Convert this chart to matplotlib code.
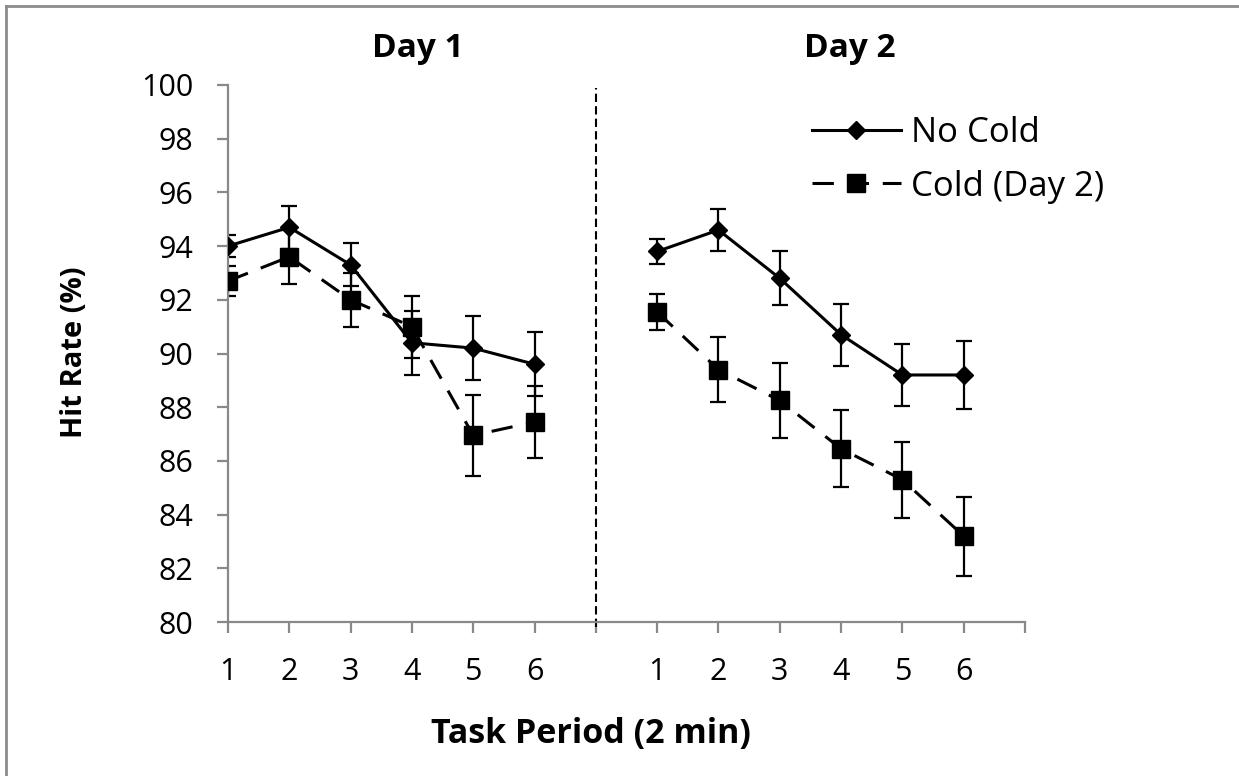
import numpy as np
import matplotlib.pyplot as plt
from matplotlib.lines import Line2D

plt.rcParams['font.family'] = ['Open Sans', 'DejaVu Sans']

# task periods per day
periods = [1, 2, 3, 4, 5, 6]

# hit rate (%) and error bars
day1_no_cold = [94.0, 94.7, 93.3, 90.4, 90.2, 89.6]
day1_no_cold_err = [0.4, 0.8, 0.8, 1.2, 1.2, 1.2]
day1_cold = [92.7, 93.6, 92.0, 91.0, 86.95, 87.45]
day1_cold_err = [0.55, 1.0, 1.0, 1.15, 1.5, 1.35]

day2_no_cold = [93.8, 94.6, 92.8, 90.7, 89.2, 89.2]
day2_no_cold_err = [0.45, 0.8, 1.0, 1.15, 1.15, 1.25]
day2_cold = [91.55, 89.4, 88.25, 86.45, 85.3, 83.2]
day2_cold_err = [0.68, 1.2, 1.4, 1.43, 1.42, 1.47]

W, H = 1239, 776
fig = plt.figure(figsize=(W / 100, H / 100), dpi=100)
ax = fig.add_axes([228 / W, 1 - 622 / H, (1025 - 228) / W, (622 - 85) / H])

x1 = np.arange(1, 7)
x2 = np.arange(8, 14)
dash = (0, (7, 4.5))

kw_err = dict(ecolor='black', elinewidth=1.6, capsize=5.5, capthick=1.6, zorder=2)
for xs, nc, nce, c, ce in [(x1, day1_no_cold, day1_no_cold_err, day1_cold, day1_cold_err),
                           (x2, day2_no_cold, day2_no_cold_err, day2_cold, day2_cold_err)]:
    ax.errorbar(xs, nc, yerr=nce, fmt='none', **kw_err)
    ax.errorbar(xs, c, yerr=ce, fmt='none', **kw_err)
    ax.plot(xs, nc, color='black', lw=2.2, marker='D', ms=9.5, zorder=3)
    ax.plot(xs, c, color='black', lw=2.2, ls=dash, marker='s', ms=13, zorder=3)

# divider between the days
ax.plot([7, 7], [79.8, 99.9], color='black', lw=1.5, ls=(0, (4, 2)), clip_on=False)

ax.set_xlim(1, 14)
ax.set_ylim(80, 100)
ax.set_yticks(np.arange(80, 101, 2))
ax.set_xticks(np.arange(1, 15))
ax.set_xticklabels([str(p) for p in periods] + [''] + [str(p) for p in periods] + [''])

for s in ['top', 'right']:
    ax.spines[s].set_visible(False)
for s in ['left', 'bottom']:
    ax.spines[s].set_color('#898989')
    ax.spines[s].set_linewidth(1.6)
ax.tick_params(axis='both', colors='#898989', length=8, width=1.6, labelsize=22,
               labelcolor='black')
ax.tick_params(axis='x', pad=17)
ax.tick_params(axis='y', pad=17)

fig.text(74 / W, 1 - 352 / H, 'Hit Rate (%)', fontsize=21, fontweight='bold',
         rotation=90, ha='center', va='center')
fig.text(591 / W, 1 - 743 / H, 'Task Period (2 min)', fontsize=24.5, fontweight='bold',
         ha='center', va='baseline')

fig.text(418 / W, 1 - 57 / H, 'Day 1', fontsize=24, fontweight='bold', ha='center', va='baseline')
fig.text(850 / W, 1 - 57 / H, 'Day 2', fontsize=24, fontweight='bold', ha='center', va='baseline')

handles = [Line2D([], [], color='black', lw=2.2, marker='D', ms=9.5),
           Line2D([], [], color='black', lw=2.2, ls=dash, marker='s', ms=13)]
ax.legend(handles, ['No Cold', 'Cold (Day 2)'], loc='center left',
          bbox_to_anchor=((812 - 228) / 797, (622 - 160) / 537),
          frameon=False, fontsize=25, handlelength=2.55, handletextpad=0.3, labelspacing=0.55,
          borderaxespad=0, borderpad=0)

# border of the chart area (only top and left are visible)
fig.add_artist(Line2D([6 / W, 6 / W], [0, 1 - 6 / H], color='#8c8c8c', lw=2))
fig.add_artist(Line2D([6 / W, 1], [1 - 6 / H, 1 - 6 / H], color='#8c8c8c', lw=2))

fig.savefig('out.png', dpi=100)
